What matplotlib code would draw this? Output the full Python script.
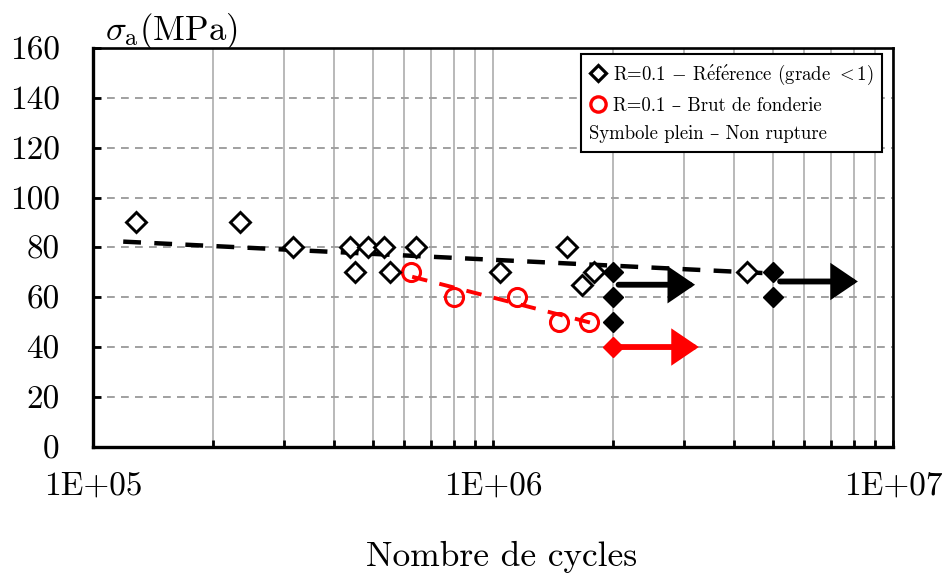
import matplotlib
matplotlib.use('Agg')
import matplotlib.pyplot as plt
from matplotlib.lines import Line2D
from matplotlib.ticker import FixedLocator, NullFormatter

plt.rcParams['font.family'] = ['cmr10', 'DejaVu Serif']
plt.rcParams['mathtext.fontset'] = 'cm'
plt.rcParams['axes.unicode_minus'] = False

# ---- data ----
# R=0.1 reference (grade <1): failures
ref_N = [1.28e5, 2.33e5, 3.16e5, 4.39e5, 4.52e5, 4.87e5, 5.34e5, 5.53e5,
         6.42e5, 1.04e6, 1.53e6, 1.67e6, 1.79e6, 4.32e6]
ref_S = [90, 90, 80, 80, 70, 80, 80, 70, 80, 70, 80, 65, 70, 70]
# reference run-outs (filled symbols)
ref_run_N = [2.0e6, 2.0e6, 2.0e6, 5.0e6, 5.0e6]
ref_run_S = [70, 60, 50, 70, 60]
# R=0.1 as-cast (brut de fonderie): failures
brut_N = [6.24e5, 8.0e5, 1.15e6, 1.46e6, 1.74e6]
brut_S = [70, 60, 60, 50, 50]
# as-cast run-out
brut_run_N = [2.0e6]
brut_run_S = [40]
# trend lines
ref_trend_N = [1.19e5, 5.0e6]
ref_trend_S = [82.3, 69.5]
brut_trend_N = [6.28e5, 1.77e6]
brut_trend_S = [68.2, 49.6]
# run-out arrows
arrow_start_N = [2.06e6, 5.22e6, 2.0e6]
arrow_tip_N = [3.2e6, 8.17e6, 3.27e6]
arrow_S = [65, 66.3, 40]
arrow_colors = ['black', 'black', 'red']

x_major = [1e5, 1e6, 1e7]
x_major_labels = ['1E+05', '1E+06', '1E+07']
x_minor = [k * 1e5 for k in range(2, 10)] + [k * 1e6 for k in range(2, 10)]
y_ticks = [0, 20, 40, 60, 80, 100, 120, 140, 160]

legend_labels = [r'R=0.1 $-$ R$\acute{\mathrm{e}}$f$\acute{\mathrm{e}}$rence (grade ${<}$1)',
                 'R=0.1 – Brut de fonderie',
                 'Symbole plein – Non rupture']

# ---- figure ----
W, H = 947, 577
fig = plt.figure(figsize=(W / 100, H / 100), dpi=100)
ax = fig.add_axes([93 / W, 1 - 446.7 / H, 800 / W, 398.7 / H])

ax.set_xscale('log')
ax.set_xlim(1e5, 1e7)
ax.set_ylim(0, 160)

ax.set_xticks(x_major, labels=x_major_labels)
ax.xaxis.set_minor_locator(FixedLocator(x_minor))
ax.xaxis.set_minor_formatter(NullFormatter())
ax.set_yticks(y_ticks)

ax.xaxis.grid(True, which='both', color='#a6a6a6', lw=1.1, ls='-', zorder=0)
ax.yaxis.grid(True, which='major', color='#a0a0a0', lw=1.4, ls=(0, (4, 3.2)), zorder=0)
ax.set_axisbelow(True)

ax.tick_params(axis='y', which='major', direction='in', length=6, width=2,
               labelsize=24, pad=24, right=False)
ax.tick_params(axis='x', which='both', direction='in', length=5, width=2,
               labelsize=24, pad=18, top=False)

for side in ['left', 'bottom']:
    ax.spines[side].set_linewidth(2.4)
for side in ['top', 'right']:
    ax.spines[side].set_linewidth(1.9)

# trend lines
ax.plot(ref_trend_N, ref_trend_S, color='black', lw=3.2, dashes=(4.0, 3.0),
        zorder=3)
ax.plot(brut_trend_N, brut_trend_S, color='red', lw=2.8, dashes=(4.0, 3.2), zorder=3)

# arrows
for s0, s1, y, c in zip(arrow_start_N, arrow_tip_N, arrow_S, arrow_colors):
    ax.annotate('', xy=(s1, y), xytext=(s0, y),
                arrowprops=dict(arrowstyle='-|>,head_length=1.4,head_width=0.95',
                                color=c, lw=4.2, shrinkA=0, shrinkB=0,
                                mutation_scale=10, joinstyle='miter'),
                zorder=4)

# markers
ax.plot(ref_N, ref_S, ls='none', marker='D', ms=10, mfc='white', mec='black',
        mew=2.1, zorder=5)
ax.plot(ref_run_N, ref_run_S, ls='none', marker='D', ms=10, mfc='black',
        mec='black', mew=1, zorder=5)
ax.plot(brut_N, brut_S, ls='none', marker='o', ms=13, mfc='none', mec='red',
        mew=2.2, zorder=4)
ax.plot(brut_run_N, brut_run_S, ls='none', marker='D', ms=10.5, mfc='red',
        mec='red', mew=1, zorder=5)

# axis titles
ax.text(0.015, 1.02, r'$\sigma_{\mathrm{a}}$(MPa)', transform=ax.transAxes,
        fontsize=25, va='baseline', ha='left')
ax.set_xlabel('Nombre de cycles', fontsize=25.5, labelpad=30)
ax.xaxis.set_label_coords(0.511, -0.235)

# legend
handles = [Line2D([], [], ls='none', marker='D', ms=8.5, mfc='white', mec='black', mew=2.3),
           Line2D([], [], ls='none', marker='o', ms=11, mfc='none', mec='red', mew=2.4),
           Line2D([], [], ls='none')]
leg = ax.legend(handles, legend_labels, loc='upper right',
                bbox_to_anchor=(0.986, 0.985), fontsize=13.5, frameon=True,
                fancybox=False, framealpha=1, edgecolor='black',
                handlelength=0.9, handletextpad=0.35, labelspacing=0.55,
                borderpad=0.45, borderaxespad=0)
leg.get_frame().set_linewidth(1.5)
leg.set_zorder(10)
leg.get_texts()[2].set_x(-24)

fig.savefig('out.png', dpi=100)
